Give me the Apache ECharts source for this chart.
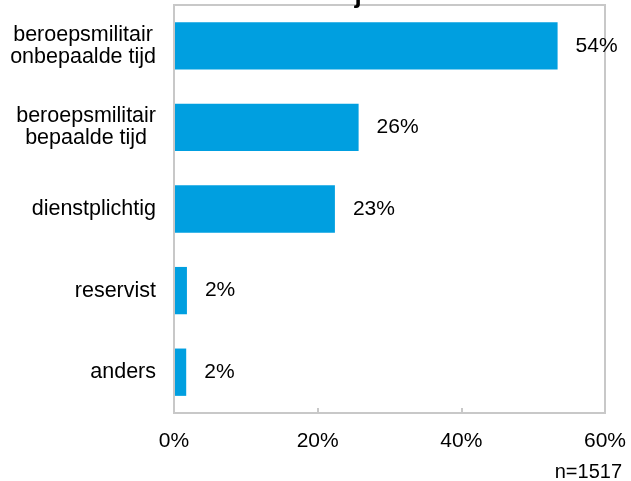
<!DOCTYPE html>
<html>
<head>
<meta charset="utf-8">
<script src="https://cdn.jsdelivr.net/npm/echarts@6/dist/echarts.min.js"></script>
<style>
html,body{margin:0;padding:0;background:#fff;}
#chart{width:631px;height:481px;}
</style>
</head>
<body>
<div id="chart"></div>
<script>
const categories = [
  'beroepsmilitair\nonbepaalde tijd',
  'beroepsmilitair\nbepaalde tijd',
  'dienstplichtig',
  'reservist',
  'anders'
];
const values = [53.4, 25.7, 22.4, 1.8, 1.7];
const valueLabels = ['54%', '26%', '23%', '2%', '2%'];
const xTicks = [0, 20, 40, 60];
const titleFragment = 'j';
const footnote = 'n=1517';

const FONT = '"Liberation Sans", Arial, sans-serif';
const chart = echarts.init(document.getElementById('chart'), null, {renderer: 'canvas'});

chart.setOption({
  animation: false,
  backgroundColor: '#ffffff',
  grid: {
    left: 174, right: 26, top: 5, bottom: 68,
    show: true, borderColor: '#c8c8c8', borderWidth: 2, backgroundColor: 'transparent'
  },
  xAxis: {
    type: 'value',
    min: xTicks[0], max: xTicks[xTicks.length - 1], interval: 20,
    axisLine: {show: false},
    axisTick: {show: true, inside: true, length: 5, lineStyle: {color: '#c8c8c8', width: 2}},
    splitLine: {show: false},
    axisLabel: {
      formatter: v => v + '%',
      fontFamily: FONT, fontSize: 21, color: '#000', margin: 18
    }
  },
  yAxis: {
    type: 'category',
    inverse: true,
    data: categories,
    z: 3,
    axisLine: {show: true, lineStyle: {color: '#c8c8c8', width: 2}},
    axisTick: {show: false},
    axisLabel: {
      margin: 18,
      formatter: v => v.split('\n').map(s => '{c|' + s + '}').join('\n'),
      rich: {
        c: {align: 'center', fontFamily: FONT, fontSize: 21.5, color: '#000', lineHeight: 22}
      }
    }
  },
  series: [{
    type: 'bar',
    data: values,
    barWidth: '58%',
    itemStyle: {color: '#009FE0'},
    label: {
      show: true, position: 'right', distance: 18,
      formatter: p => valueLabels[p.dataIndex],
      fontFamily: FONT, fontSize: 21, color: '#000'
    }
  }],
  graphic: [
    {
      type: 'text',
      x: 358, y: 9,
      style: {text: titleFragment, font: 'bold 26px ' + FONT, fill: '#000', textAlign: 'center', textVerticalAlign: 'bottom'},
      silent: true
    },
    {
      type: 'text',
      x: 622, y: 482,
      style: {text: footnote, font: '20px ' + FONT, fill: '#000', textAlign: 'right', textVerticalAlign: 'bottom'},
      silent: true
    }
  ]
});
</script>
</body>
</html>
